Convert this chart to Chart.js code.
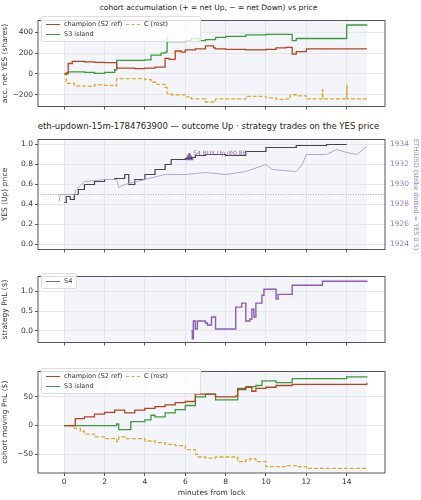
<!DOCTYPE html>
<html><head><meta charset="utf-8">
<script src="https://cdn.jsdelivr.net/npm/chart.js@4"></script>
<style>
body{margin:0;background:#fff;font-family:"DejaVu Sans",sans-serif;}
#wrap{position:relative;width:421px;height:500px;}
canvas{position:absolute;left:0;z-index:1;}
.title{position:absolute;left:0;width:421px;text-align:center;font-size:7.5px;color:#222;white-space:nowrap;z-index:2;}
.leg{position:absolute;font-size:6.5px;color:#333;background:rgba(255,255,255,0.8);border:1px solid #ddd;border-radius:2px;padding:2px 4px;line-height:10px;z-index:3;}
.leg span{display:inline-block;width:14px;height:0;vertical-align:middle;margin-right:4px;}
</style></head><body>
<div id="wrap">
<canvas id="c1"></canvas><canvas id="c2"></canvas><canvas id="c3"></canvas><canvas id="c4"></canvas>
<div class="title" style="top:3px;left:-2px">cohort accumulation (+ = net Up, − = net Down) vs price</div>
<div class="title" style="top:121px;font-size:8.5px;left:-2px">eth-updown-15m-1784763900 — outcome Up · strategy trades on the YES price</div>
<div class="leg" style="left:41px;top:16px;width:150px">
<div style="display:flex"><div style="width:80px"><span style="border-top:1.5px solid #b5431d"></span>champion (S2 ref)</div><div><span style="border-top:1.5px dashed #e0a82e"></span>C (rest)</div></div>
<div><span style="border-top:1.5px solid #3a9a3a"></span>S3 island</div></div>
<div class="leg" style="left:41px;top:273px"><span style="border-top:1.5px solid #8c5bb5"></span>S4</div>
<div class="leg" style="left:41px;top:368px;width:150px">
<div style="display:flex"><div style="width:80px"><span style="border-top:1.5px solid #b5431d"></span>champion (S2 ref)</div><div><span style="border-top:1.5px dashed #e0a82e"></span>C (rest)</div></div>
<div><span style="border-top:1.5px solid #3a9a3a"></span>S3 island</div></div>
</div>
<script>
// panel 1: accumulated net YES shares
const accT_champ = [0,0.1,0.2,0.4,1,1.5,2,2.6,2.6,3.5,4,4.5,5,5.2,5.5,5.8,6,6.5,7,7.4,7.5,8,9,10,10.5,11,11.3,11.5,12,15];
const accV_champ = [0,10,100,120,115,110,108,110,55,50,55,65,150,140,220,210,230,240,270,250,240,235,230,235,250,255,190,215,240,240];
const accT_s3 = [0,0.2,1,1.5,2,2.5,2.6,2.6,3,4,4.3,4.3,4.8,5,5.1,5.1,6,6.3,6.7,7,7.5,8,9,10,11.3,11.3,11.5,14,14,15];
const accV_s3 = [0,20,15,5,15,40,50,130,130,135,140,180,200,210,360,310,320,340,320,330,350,360,375,380,380,320,340,340,470,475];
const accT_c = [0,0.1,0.5,1,1.5,2,2.5,2.6,3.5,4,4.3,4.6,5,5.1,5.3,6,6.3,7,7.5,8,9,10,10.5,11,11.2,11.5,12,12.8,12.8,12.82,14,14,14.02,15];
const accV_c = [0,-90,-115,-120,-105,-110,-115,-45,-45,-55,-80,-100,-130,-190,-200,-220,-240,-270,-240,-240,-215,-230,-245,-240,-200,-210,-240,-240,-150,-240,-240,-110,-240,-240];
// panel 2: YES price and ETH/USD
const yesT = [0,0.1,0.3,0.5,0.7,1,1.5,2,2.5,3,3.2,3.5,4,4.5,5,5.3,6,6.3,6.5,7,8,9,10,11.5,13,14];
const yesV = [0.42,0.48,0.45,0.5,0.55,0.6,0.63,0.65,0.66,0.7,0.6,0.65,0.7,0.75,0.8,0.85,0.86,0.87,0.89,0.9,0.89,0.93,0.97,0.99,1.0,1.0];
const ethT = [-0.25,-0.2,0.5,0.6,1,2,2.6,2.7,3,4,5,6,7,8,9,10,10.3,11.5,11.8,12,13,13.5,14,14.5,15];
const ethV = [1928.3,1929,1929,1929.5,1930.3,1930.5,1930.5,1929.7,1930,1930.5,1931,1931,1931.2,1931,1931.3,1932,1931.5,1931.3,1932,1933,1933,1933.5,1933.2,1933,1933.8];
const strike = 0.5;
const tradeT = [6.2], tradeV = [0.87], tradeLabel = ["S4 BUY Up @0.86"];
// panel 3: S4 pnl
const s4T = [6.3,6.35,6.4,6.5,6.6,7,7.1,7.3,7.5,8.5,8.5,8.8,9,9.2,9.3,9.4,9.5,9.8,9.9,10.5,10.6,11.3,12.8,15];
const s4V = [0,-0.2,0.25,0.05,0.25,0.2,0.15,0.35,0.05,0.05,0.6,0.7,0.25,0.3,0.55,0.35,0.7,0.9,1.05,0.8,0.92,1.15,1.25,1.27];
// panel 4: cohort moving pnl
const pnlT_champ = [0,0.5,0.55,1,1.5,2,2.5,3,3.5,4,4.5,5,5.5,6,6.5,7,7.5,8.5,8.6,9,9.3,9.5,10,10.5,11.3,15];
const pnlV_champ = [0,0,12,15,20,23,27,22,27,30,33,36,40,42,55,55,50,52,63,67,60,65,67,70,72,75];
const pnlT_s3 = [0,2.6,2.7,3.3,3.3,4,4.3,4.5,5,5.5,6,6.5,7,7.5,8.5,8.6,9,9.5,9.8,10.5,11.3,14,15];
const pnlV_s3 = [0,3,-7,-7,7,10,18,15,22,28,35,50,55,45,45,65,68,70,78,75,82,85,86];
const pnlT_c = [0,0.5,0.8,1,1.5,2,2.6,2.7,3,4,4.5,5,5.5,6,6.5,6.6,7,7.5,8.5,8.6,9,9.2,9.5,10,11,11.5,12,15];
const pnlV_c = [0,-5,-10,-15,-20,-23,-28,-20,-23,-27,-30,-33,-35,-42,-50,-55,-57,-55,-55,-63,-60,-58,-63,-72,-70,-72,-75,-76];
const xTicks = [0,2,4,6,8,10,12,14];

const zip = (t, v) => t.map((x, i) => ({ x, y: v[i] }));
const GRID = "#e6e6e6", TXT = "#333";
Chart.defaults.font.family = "DejaVu Sans";
Chart.defaults.font.size = 7.5;
Chart.defaults.color = TXT;
Chart.defaults.animation = false;

const frame = {
  id: "frame",
  beforeDraw(c) {
    const a = c.chartArea, x = c.scales.x, ctx = c.ctx;
    ctx.save();
    ctx.fillStyle = "#f4f5fa";
    ctx.fillRect(x.getPixelForValue(0), a.top, x.getPixelForValue(15) - x.getPixelForValue(0), a.bottom - a.top);
    ctx.restore();
  },
  afterDraw(c) {
    const a = c.chartArea, ctx = c.ctx;
    ctx.save();
    ctx.strokeStyle = "#555"; ctx.lineWidth = 1;
    ctx.strokeRect(a.left, a.top, a.right - a.left, a.bottom - a.top);
    ctx.restore();
  }
};

function line(data, color, dash, w, stepped) {
  return { data, borderColor: color, borderWidth: w || 1.3, borderDash: dash ? [4, 2] : [], stepped: stepped !== false, pointRadius: 0, fill: false };
}
function fixTicks(vals) { return s => { s.ticks = vals.map(v => ({ value: v })); }; }

function make(id, top, h, datasets, yOpt, bottom, extra) {
  const el = document.getElementById(id);
  el.style.top = top + "px";
  el.width = 421; el.height = h;
  el.style.width = "421px"; el.style.height = h + "px";
  const scales = {
    x: {
      type: "linear", min: -1.3, max: 15.9,
      afterBuildTicks: fixTicks(xTicks),
      grid: { color: GRID, drawTicks: true, tickLength: 3, tickColor: "#555" },
      border: { display: false },
      ticks: { display: bottom, font: { size: 7.5 }, padding: 2 },
      title: { display: bottom, text: "minutes from lock", font: { size: 7.5 }, padding: 1 },
      afterFit: s => { s.height = bottom ? 26 : 4; }
    },
    y: Object.assign({
      position: "left",
      grid: { color: GRID, tickLength: 3, tickColor: "#555" },
      border: { display: false },
      ticks: { font: { size: 7.5 }, padding: 2 },
      afterFit: s => { s.width = 38; }
    }, yOpt)
  };
  Object.assign(scales, (extra && extra.scales) || {});
  return new Chart(el, {
    type: "line",
    data: { datasets },
    options: {
      responsive: false, devicePixelRatio: 1,
      layout: { padding: { top: 0, right: (extra && extra.scales) ? 0 : 36, left: 0, bottom: 0 } },
      plugins: { legend: { display: false }, tooltip: { enabled: false } },
      scales
    },
    plugins: [frame].concat((extra && extra.plugins) || [])
  });
}

const yTitle = t => ({ display: true, text: t, font: { size: 7.5 }, padding: 1 });

make("c1", 14, 99, [
  line(zip(accT_champ, accV_champ), "#b5431d"),
  line(zip(accT_s3, accV_s3), "#3a9a3a"),
  line(zip(accT_c, accV_c), "#e0a82e", true)
], { min: -313, max: 513, afterBuildTicks: fixTicks([-200, 0, 200, 400]), ticks: { font: { size: 7.5 }, padding: 2, callback: v => v < 0 ? "−" + (-v) : String(v) }, title: yTitle("acc. net YES (shares)") }, false);

const tradeLbl = {
  id: "tradeLbl",
  afterDatasetsDraw(c) {
    const ctx = c.ctx;
    ctx.save();
    ctx.fillStyle = "#8c5bb5"; ctx.font = "6px DejaVu Sans";
    tradeT.forEach((t, i) => {
      ctx.fillText(tradeLabel[i], c.scales.x.getPixelForValue(t) + 4, c.scales.y.getPixelForValue(tradeV[i]) - 3);
    });
    ctx.restore();
  }
};
const ethSet = Object.assign(line(zip(ethT, ethV), "#b6a3d8", false, 1, false), { yAxisID: "y2" });
make("c2", 133, 123, [
  { data: [{ x: -1.3, y: strike }, { x: 15.9, y: strike }], borderColor: "#aaa", borderWidth: 1, borderDash: [1, 1.5], pointRadius: 0 },
  ethSet,
  line(zip(yesT, yesV), "#444", false, 1.2),
  { type: "scatter", data: zip(tradeT, tradeV), pointStyle: "triangle", pointRadius: 4.5, backgroundColor: "#8c5bb5", borderColor: "#8c5bb5" }
],
{ min: -0.05, max: 1.05, afterBuildTicks: fixTicks([0, 0.2, 0.4, 0.6, 0.8, 1.0]), ticks: { font: { size: 7.5 }, padding: 2, callback: v => v.toFixed(1) }, title: yTitle("YES (Up) price") }, false,
{ scales: { y2: {
  position: "right", min: 1923.5, max: 1934.5,
  afterBuildTicks: fixTicks([1924, 1926, 1928, 1930, 1932, 1934]),
  grid: { display: false, drawOnChartArea: false, tickLength: 3, tickColor: "#555" },
  border: { display: false },
  ticks: { color: "#9a7fc4", font: { size: 7.5 }, padding: 2, callback: v => String(v) },
  title: { display: true, text: "ETH/USD (strike dotted = YES 0.5)", color: "#9a7fc4", font: { size: 6.5 }, padding: 1 },
  afterFit: s => { s.width = 36; }
} }, plugins: [tradeLbl] });

make("c3", 270, 79, [
  line(zip(s4T, s4V), "#8c5bb5", false, 1.4)
], { min: -0.29, max: 1.37, afterBuildTicks: fixTicks([0, 0.5, 1.0]), ticks: { font: { size: 7.5 }, padding: 2, callback: v => v.toFixed(1) }, title: yTitle("strategy PnL ($)") }, false);

make("c4", 365, 134, [
  line(zip(pnlT_champ, pnlV_champ), "#b5431d"),
  line(zip(pnlT_s3, pnlV_s3), "#3a9a3a"),
  line(zip(pnlT_c, pnlV_c), "#e0a82e", true)
], { min: -83, max: 94.5, afterBuildTicks: fixTicks([-50, 0, 50]), ticks: { font: { size: 7.5 }, padding: 2, callback: v => v === 0 ? "0" : (v < 0 ? "−" + (-v) : String(v)) }, title: yTitle("cohort moving PnL ($)") }, true);
</script>
</body></html>
